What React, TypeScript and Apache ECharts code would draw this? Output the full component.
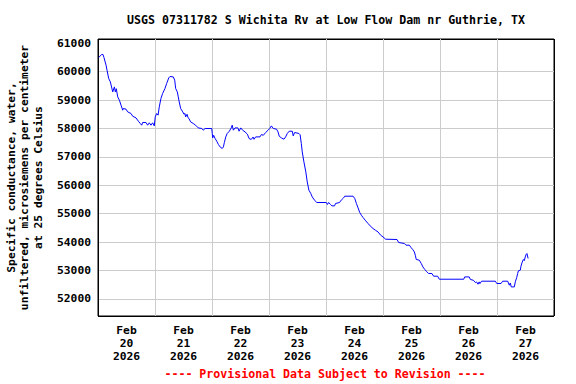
import React, { useEffect, useRef } from "react";
import * as echarts from "echarts";

const chartTitle = "USGS 07311782 S Wichita Rv at Low Flow Dam nr Guthrie, TX";
const yAxisTitle =
  "Specific conductance, water,\nunfiltered, microsiemens per centimeter\nat 25 degrees Celsius";
const footerNote = "---- Provisional Data Subject to Revision ----";

const dayLabels = [
  "Feb\n20\n2026",
  "Feb\n21\n2026",
  "Feb\n22\n2026",
  "Feb\n23\n2026",
  "Feb\n24\n2026",
  "Feb\n25\n2026",
  "Feb\n26\n2026",
  "Feb\n27\n2026",
];

// hours since Feb 20 2026 00:00
const hoursSinceStart = [
  0.3, 1.56, 2.1, 2.5, 3.4, 3.8, 4.5, 5.2, 6.2, 6.9, 7.3, 7.7, 8.3, 9.0, 9.7, 10.4, 10.7, 11.8, 12.5, 13.9,
  14.6, 16.0, 17.0, 17.8, 18.4, 18.8, 20.2, 20.9, 21.6, 22.3, 23.0, 23.7, 24.1, 24.7, 25.3, 25.8, 26.5, 27.2,
  28.2, 28.9, 29.8, 30.3, 31.7, 32.3, 32.7, 33.4, 33.8, 34.2, 34.8, 35.7, 36.2, 36.6, 36.9, 37.5, 37.9, 38.3,
  39.0, 40.1, 41.1, 42.2, 43.7, 44.3, 45.1, 47.2, 47.9, 48.1, 48.3, 48.7, 49.3, 50.0, 50.7, 51.4, 52.3, 52.8,
  53.2, 53.8, 54.4, 55.3, 56.1, 56.5, 57.0, 57.7, 58.9, 59.4, 60.1, 60.9, 61.9, 62.9, 63.6, 64.5, 65.3, 65.7,
  66.4, 68.2, 68.8, 69.6, 70.6, 71.6, 72.3, 73.0, 73.8, 75.2, 75.8, 76.3, 77.2, 78.3, 79.0, 79.7, 80.5, 81.8,
  82.2, 82.8, 84.6, 85.1, 85.6, 86.0, 86.7, 87.5, 88.1, 88.8, 89.6, 90.2, 91.2, 92.1, 96.1, 96.6, 97.1, 97.9,
  98.5, 99.6, 100.0, 101.7, 102.4, 103.4, 103.9, 107.4, 108.1, 108.8, 109.5, 110.2, 110.9, 111.6, 112.5, 113.7,
  114.6, 115.8, 116.8, 117.9, 119.0, 120.0, 121.1, 125.9, 126.6, 129.0, 129.7, 131.1, 131.8, 132.5, 133.2,
  133.6, 134.0, 135.3, 136.1, 136.8, 137.6, 138.2, 139.2, 140.6, 141.3, 143.0, 143.7, 154.0, 154.4, 156.3,
  156.8, 158.0, 158.9, 159.4, 160.0, 160.5, 160.8, 161.5, 167.3, 167.9, 169.7, 170.4, 172.5, 173.2, 173.6,
  174.0, 175.3, 175.7, 176.3, 176.7, 177.0, 177.8, 178.1, 178.5, 179.1, 179.5, 179.9, 180.3, 180.6, 181.1,
];

const conductance = [
  60500, 60605, 60605, 60500, 60228, 60052, 59760, 59640, 59288, 59464, 59288, 59400, 59112, 58996, 58820, 58644,
  58704, 58680, 58584, 58528, 58433, 58373, 58257, 58176, 58116, 58211, 58211, 58116, 58200, 58116, 58200, 58092,
  58408, 58528, 58470, 58760, 59056, 59232, 59408, 59584, 59781, 59830, 59816, 59700, 59408, 59288, 59112, 58936,
  58704, 58584, 58500, 58530, 58408, 58500, 58380, 58352, 58232, 58176, 58116, 58021, 58000, 57940, 58000, 58000,
  58000, 57824, 57669, 57760, 57648, 57553, 57437, 57352, 57296, 57352, 57507, 57704, 57824, 57905, 58021, 58116,
  57940, 58021, 58021, 57905, 58021, 57940, 57880, 57800, 57648, 57613, 57700, 57620, 57704, 57704, 57789, 57760,
  57859, 57940, 58000, 58092, 58000, 57975, 57880, 57729, 57669, 57623, 57704, 57824, 57905, 57905, 57740, 57859,
  57824, 57780, 57472, 57176, 56824, 56472, 56120, 55828, 55712, 55592, 55476, 55395, 55395, 55325, 55395, 55325,
  55276, 55276, 55360, 55395, 55476, 55557, 55617, 55617, 55536, 55360, 55205, 55043, 54948, 54867, 54772, 54656,
  54571, 54480, 54420, 54360, 54244, 54184, 54103, 54093, 53987, 53952, 53892, 53892, 53811, 53741, 53656, 53540,
  53389, 53364, 53248, 53128, 53037, 52977, 52896, 52896, 52801, 52801, 52695, 52695, 52776, 52776, 52684, 52660,
  52579, 52600, 52519, 52600, 52540, 52625, 52625, 52544, 52544, 52625, 52625, 52484, 52560, 52424, 52424, 52601,
  52755, 52896, 52988, 53012, 53153, 53269, 53389, 53350, 53480, 53575, 53600, 53424,
];

const FONT = "DejaVu Sans Mono";
const GRID = "#cccccc";
const EDGE = "#000000";

export default function App() {
  const ref = useRef<HTMLDivElement>(null);

  useEffect(() => {
    if (!ref.current) return;
    const chart = echarts.init(ref.current, undefined, { renderer: "svg" });
    const seriesData = hoursSinceStart.map((h, i) => [h, conductance[i]]);
    // y split lines: 51400(min edge), 52000..60000, 61000 (hidden), 61150 (max edge)
    const yLineColors = [EDGE, GRID, GRID, GRID, GRID, GRID, GRID, GRID, GRID, GRID, "rgba(0,0,0,0)", EDGE];
    const xLineColors = [EDGE, GRID, GRID, GRID, GRID, GRID, GRID, GRID, EDGE];
    chart.setOption({
      animation: false,
      backgroundColor: "#ffffff",
      grid: {
        left: 98,
        top: 39,
        right: 22,
        bottom: 68,
        show: true,
        borderColor: EDGE,
        borderWidth: 1,
        backgroundColor: "transparent",
        containLabel: false,
        outerBoundsMode: "none",
      },
      xAxis: [
        {
          type: "value",
          min: 0,
          max: 192,
          interval: 24,
          axisLine: { show: false },
          axisTick: { show: false },
          axisLabel: { show: false },
          splitLine: { show: true, lineStyle: { color: xLineColors, width: 1 } },
        },
        {
          type: "category",
          position: "bottom",
          data: dayLabels,
          boundaryGap: true,
          axisLine: { show: false },
          axisTick: { show: false },
          splitLine: { show: false },
          axisLabel: {
            margin: 8,
            interval: 0,
            fontFamily: FONT,
            fontWeight: "bold",
            fontSize: 11.3,
            lineHeight: 13,
            color: "#000",
          },
        },
      ],
      yAxis: {
        type: "value",
        min: 51400,
        max: 61150,
        minInterval: 1000,
        maxInterval: 1000,
        axisLine: { show: false },
        axisTick: { show: false },
        axisLabel: {
          margin: 7,
          fontFamily: FONT,
          fontWeight: "bold",
          fontSize: 11.3,
          color: "#000",
          formatter: (v: number) => (v % 1000 === 0 ? String(v) : ""),
        },
        splitLine: { show: true, lineStyle: { color: yLineColors, width: 1 } },
        name: yAxisTitle,
        nameLocation: "middle",
        nameRotate: 90,
        nameGap: 53,
        nameTextStyle: {
          fontFamily: FONT,
          fontWeight: "bold",
          fontSize: 11.3,
          lineHeight: 13.5,
          color: "#000",
          align: "center",
        },
      },
      graphic: [
        {
          type: "text",
          x: 326,
          y: 19.5,
          style: {
            text: chartTitle,
            fontFamily: FONT,
            fontWeight: "bold",
            fontSize: 11.6,
            fill: "#000",
            align: "center",
            verticalAlign: "middle",
          },
        },
        {
          type: "text",
          x: 325,
          y: 374,
          style: {
            text: footerNote,
            fontFamily: FONT,
            fontWeight: "bold",
            fontSize: 11.6,
            fill: "#ff0000",
            align: "center",
            verticalAlign: "middle",
          },
        },
      ],
      series: [
        {
          type: "line",
          xAxisIndex: 0,
          yAxisIndex: 0,
          data: seriesData,
          showSymbol: false,
          symbol: "none",
          z: 3,
          lineStyle: { color: "#0000ff", width: 1 },
          itemStyle: { color: "#0000ff" },
        },
      ],
    });
    return () => chart.dispose();
  }, []);

  return (
    <div
      ref={ref}
      style={{ position: "absolute", left: 0, top: 0, width: 576, height: 384, background: "#fff" }}
    />
  );
}
